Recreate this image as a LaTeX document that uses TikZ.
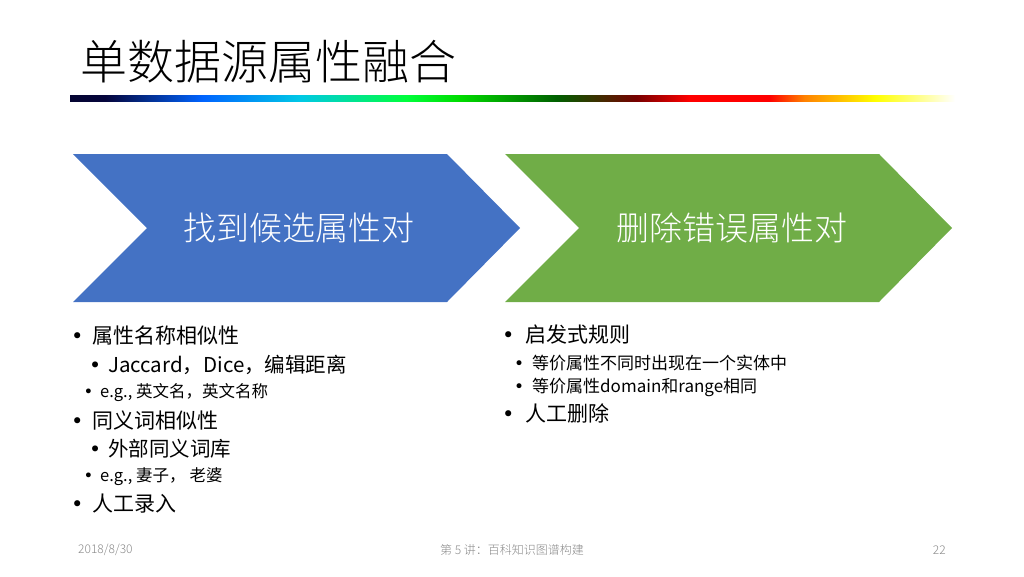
\documentclass[tikz,border=0pt]{standalone}
\usepackage{fontspec}
\setmainfont{Noto Sans CJK SC}
\newfontfamily\lightfont{Noto Sans CJK SC Light}
\newfontfamily\dotfont{DejaVu Sans}
\definecolor{chevblue}{RGB}{68,114,196}
\definecolor{chevgreen}{RGB}{112,173,71}
\definecolor{footgray}{RGB}{137,137,137}
\pgfdeclarehorizontalshading{rainbowbar}{100bp}{
  color(0bp)=(rgb,255:red,5;green,5;blue,50);
  color(25bp)=(rgb,255:red,5;green,5;blue,50);
  color(27bp)=(rgb,255:red,5;green,5;blue,60);
  color(32.5bp)=(rgb,255:red,0;green,100;blue,255);
  color(38bp)=(rgb,255:red,0;green,200;blue,230);
  color(44bp)=(rgb,255:red,0;green,255;blue,60);
  color(47bp)=(rgb,255:red,0;green,220;blue,0);
  color(52.5bp)=(rgb,255:red,0;green,95;blue,0);
  color(57bp)=(rgb,255:red,120;green,0;blue,0);
  color(60bp)=(rgb,255:red,255;green,0;blue,0);
  color(64.5bp)=(rgb,255:red,255;green,0;blue,0);
  color(66.5bp)=(rgb,255:red,255;green,130;blue,0);
  color(70.5bp)=(rgb,255:red,255;green,255;blue,0);
  color(75bp)=(white);
  color(100bp)=(white)}
\newcommand{\dotbox}[2]{\makebox[#1][l]{\dotfont •}#2}
\tikzset{
  chevtext/.style={text=white,font=\lightfont\fontsize{33}{36}\selectfont},
  itemone/.style={anchor=west,inner sep=0pt,font=\fontsize{21}{24}\selectfont},
  itemtwo/.style={anchor=west,inner sep=0pt,font=\fontsize{20.5}{24}\selectfont},
  itemthree/.style={anchor=west,inner sep=0pt,font=\fontsize{16.5}{19}\selectfont},
  itemsub/.style={anchor=west,inner sep=0pt,font=\fontsize{17}{20}\selectfont},
  foot/.style={inner sep=0pt,text=footgray,font=\lightfont\fontsize{12}{14}\selectfont}
}
\begin{document}
\begin{tikzpicture}[x=1pt,y=-1pt]
        \useasboundingbox (0,0) rectangle (1024,576);
        \node[anchor=west,inner sep=0pt,font=\lightfont\fontsize{47}{50}\selectfont] (title) at (80,62) {单数据源属性融合};
        \shade[shading=rainbowbar] (70,95) rectangle (955,101);
        % the two steps
        \fill[chevblue] (73,154) -- (447,154) -- (520,228) -- (447,302) -- (73,302) -- (147,228) -- cycle;
        \fill[chevgreen] (505,154) -- (879,154) -- (952,228) -- (879,302) -- (505,302) -- (579,228) -- cycle;
        \node[chevtext] (find) at (299,228) {找到候选属性对};
        \node[chevtext] (remove) at (732,228) {删除错误属性对};
        % left list
        \node[itemone] (l1) at (71,335) {\dotbox{21pt}{属性名称相似性}};
        \node[itemtwo] (l2) at (89,365) {\dotbox{19pt}{Jaccard，Dice，编辑距离}};
        \node[itemthree] (l3) at (83.5,393) {\dotbox{16.5pt}{e.g., 英文名，英文名称}};
        \node[itemone] (l4) at (71,420) {\dotbox{21pt}{同义词相似性}};
        \node[itemtwo] (l5) at (89,449) {\dotbox{19pt}{外部同义词库}};
        \node[itemthree] (l6) at (83.5,477) {\dotbox{16.5pt}{e.g., 妻子，\hspace{4pt}老婆}};
        \node[itemone] (l7) at (71,504) {\dotbox{21pt}{人工录入}};
        % right list
        \node[itemone] (r1) at (502,335) {\dotbox{23pt}{启发式规则}};
        \node[itemsub] (r2) at (514,363) {\dotbox{18pt}{等价属性不同时出现在一个实体中}};
        \node[itemsub] (r3) at (514,387) {\dotbox{18pt}{等价属性domain和range相同}};
        \node[itemone] (r4) at (502,413) {\dotbox{23pt}{人工删除}};
        % footer
        \node[foot,anchor=west] (date) at (78,550) {2018/8/30};
        \node[foot] (lecture) at (512,550) {第 5 讲：百科知识图谱构建};
        \node[foot,anchor=east] (page) at (946,550) {22};
\end{tikzpicture}
\end{document}
